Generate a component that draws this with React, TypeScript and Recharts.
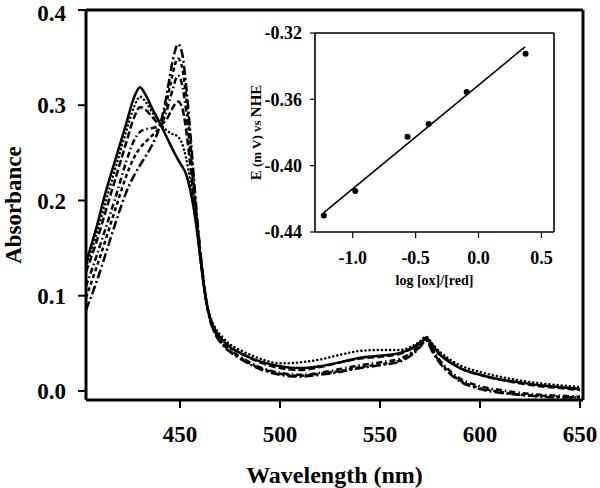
import React from 'react';
import {
  LineChart,
  Line,
  ComposedChart,
  Scatter,
  XAxis,
  YAxis,
  ReferenceLine,
} from 'recharts';

const FONT = '"Liberation Serif", "Times New Roman", serif';

// ─── Main spectra ─────────────────────────────────────────────────────────────

const WAVELENGTHS = [
  403, 408, 413, 418, 423, 427, 430, 433, 436, 440, 443, 446, 449, 451, 453, 455, 457, 459, 461,
  463, 465, 468, 471, 475, 480, 490, 500, 510, 520, 530, 540, 550, 560, 566, 570, 573, 576, 580,
  585, 590, 600, 610, 620, 630, 640, 650,
];

const SERIES_A = [
  0.135, 0.17, 0.21, 0.245, 0.28, 0.308, 0.319, 0.31, 0.297, 0.281, 0.268, 0.255, 0.243, 0.236,
  0.228, 0.212, 0.19, 0.16, 0.125, 0.095, 0.077, 0.062, 0.054, 0.046, 0.04, 0.031, 0.026, 0.024,
  0.026, 0.03, 0.035, 0.037, 0.04, 0.045, 0.05, 0.055, 0.048, 0.038, 0.03, 0.024, 0.017, 0.012,
  0.009, 0.006, 0.004, 0.002,
];
const SERIES_B = [
  0.13, 0.163, 0.2, 0.236, 0.272, 0.298, 0.309, 0.303, 0.293, 0.281, 0.274, 0.27, 0.267, 0.26,
  0.245, 0.222, 0.193, 0.16, 0.126, 0.097, 0.079, 0.065, 0.057, 0.049, 0.043, 0.034, 0.029, 0.03,
  0.033, 0.038, 0.042, 0.043, 0.043, 0.047, 0.052, 0.057, 0.05, 0.041, 0.033, 0.027, 0.02, 0.015,
  0.011, 0.008, 0.006, 0.004,
];
const SERIES_C = [
  0.125, 0.155, 0.19, 0.225, 0.26, 0.287, 0.298, 0.295, 0.288, 0.28, 0.284, 0.296, 0.304, 0.298,
  0.275, 0.24, 0.2, 0.162, 0.127, 0.096, 0.077, 0.062, 0.054, 0.046, 0.04, 0.03, 0.024, 0.022,
  0.025, 0.03, 0.034, 0.036, 0.039, 0.045, 0.051, 0.056, 0.049, 0.039, 0.031, 0.024, 0.017, 0.012,
  0.008, 0.005, 0.003, 0.001,
];
const SERIES_D = [
  0.11, 0.14, 0.172, 0.205, 0.24, 0.263, 0.272, 0.275, 0.276, 0.279, 0.292, 0.314, 0.331, 0.322,
  0.295, 0.255, 0.21, 0.166, 0.128, 0.096, 0.076, 0.06, 0.051, 0.043, 0.036, 0.025, 0.019, 0.017,
  0.019, 0.023, 0.027, 0.03, 0.034, 0.041, 0.049, 0.055, 0.045, 0.032, 0.021, 0.013, 0.005, 0.001,
  -0.002, -0.004, -0.005, -0.006,
];
const SERIES_E = [
  0.098, 0.128, 0.16, 0.193, 0.225, 0.245, 0.255, 0.262, 0.268, 0.279, 0.3, 0.33, 0.349, 0.34,
  0.31, 0.265, 0.215, 0.169, 0.129, 0.096, 0.075, 0.059, 0.05, 0.042, 0.035, 0.024, 0.018, 0.016,
  0.018, 0.021, 0.025, 0.028, 0.032, 0.039, 0.047, 0.054, 0.043, 0.03, 0.019, 0.011, 0.003, -0.001,
  -0.004, -0.005, -0.006, -0.007,
];
const SERIES_F = [
  0.085, 0.113, 0.145, 0.178, 0.208, 0.226, 0.237, 0.247, 0.258, 0.279, 0.307, 0.343, 0.364, 0.355,
  0.322, 0.275, 0.222, 0.172, 0.13, 0.097, 0.075, 0.058, 0.049, 0.041, 0.034, 0.023, 0.017, 0.015,
  0.017, 0.02, 0.024, 0.027, 0.031, 0.038, 0.046, 0.053, 0.042, 0.029, 0.018, 0.01, 0.002, -0.002,
  -0.004, -0.006, -0.007, -0.007,
];

const X_TICKS = [450, 500, 550, 600, 650];
const Y_TICKS = [0, 0.1, 0.2, 0.3, 0.4];

// line styles for the six spectra (solid, dotted, dashes, dash-dots)
const STYLES = [
  { key: 'a', dash: undefined, cap: 'butt' },
  { key: 'b', dash: '0.1 4', cap: 'round' },
  { key: 'c', dash: '7 3', cap: 'butt' },
  { key: 'd', dash: '6 3 1.5 3', cap: 'butt' },
  { key: 'e', dash: '4 3', cap: 'butt' },
  { key: 'f', dash: '9 3 2 3', cap: 'butt' },
];

const spectra = WAVELENGTHS.map((wl, i) => ({
  wl,
  a: SERIES_A[i],
  b: SERIES_B[i],
  c: SERIES_C[i],
  d: SERIES_D[i],
  e: SERIES_E[i],
  f: SERIES_F[i],
}));

// ─── Inset (Nernst plot) ──────────────────────────────────────────────────────

const LOG_RATIO = [-1.23, -0.98, -0.564, -0.396, -0.094, 0.374];
const POTENTIAL = [-0.43, -0.4153, -0.3825, -0.3749, -0.3556, -0.3325];
const FIT_X = [-1.23, 0.37];
const FIT_Y = [-0.4283, -0.3283];

const INSET_X_TICKS = [-1.0, -0.5, 0.0, 0.5];
const INSET_Y_TICKS = [-0.44, -0.4, -0.36, -0.32];

const points = LOG_RATIO.map((x, i) => ({ x, y: POTENTIAL[i] }));
const fitLine = FIT_X.map((x, i) => ({ x, y: FIT_Y[i] }));

// ─── Axis titles ──────────────────────────────────────────────────────────────

const BottomTitle = ({ viewBox, text, size, offset }: any) => (
  <text
    x={viewBox.x + viewBox.width / 2}
    y={viewBox.y + viewBox.height - offset}
    textAnchor="middle"
    fontFamily={FONT}
    fontWeight={700}
    fontSize={size}
    fill="#000"
  >
    {text}
  </text>
);

const SideTitle = ({ viewBox, children, baseX }: any) => {
  const cy = viewBox.y + viewBox.height / 2;
  return (
    <text
      x={baseX}
      y={cy}
      transform={`rotate(-90 ${baseX} ${cy})`}
      textAnchor="middle"
      fontFamily={FONT}
      fontWeight={700}
      fill="#000"
    >
      {children}
    </text>
  );
};

const Dot = ({ cx, cy }: any) => <circle cx={cx} cy={cy} r={3} fill="#000" />;

export default function App() {
  const tickStyle = { fill: '#000', fontSize: 23, fontWeight: 700, fontFamily: FONT };
  const insetTick = { fill: '#000', fontSize: 18, fontWeight: 700, fontFamily: FONT };

  return (
    <div style={{ position: 'absolute', left: 0, top: 0, width: 600, height: 488, background: '#fff' }}>
      <LineChart width={600} height={488} data={spectra} margin={{ top: 10, right: 17, bottom: 0, left: 0 }}>
        <XAxis
          dataKey="wl"
          type="number"
          domain={[403, 651.5]}
          ticks={X_TICKS}
          allowDataOverflow
          height={88}
          stroke="#000"
          axisLine={{ strokeWidth: 3 }}
          tickLine={{ strokeWidth: 2 }}
          tickSize={8}
          tickMargin={18}
          tick={tickStyle}
          label={<BottomTitle text="Wavelength (nm)" size={24} offset={9} />}
        />
        <YAxis
          type="number"
          domain={[-0.0095, 0.4]}
          ticks={Y_TICKS}
          allowDataOverflow
          width={86}
          stroke="#000"
          axisLine={{ strokeWidth: 3 }}
          tickLine={{ strokeWidth: 2 }}
          tickSize={8}
          tickMargin={12}
          tick={tickStyle}
          tickFormatter={(v: number) => v.toFixed(1)}
          label={
            <SideTitle baseX={21}>
              <tspan fontSize={23}>Absorbance</tspan>
            </SideTitle>
          }
        />
        <ReferenceLine y={0.4} stroke="#000" strokeWidth={3} ifOverflow="visible" />
        <ReferenceLine x={651.5} stroke="#000" strokeWidth={3} ifOverflow="visible" />
        {STYLES.map((s) => (
          <Line
            key={s.key}
            dataKey={s.key}
            type="monotone"
            stroke="#000"
            strokeWidth={2.5}
            strokeDasharray={s.dash}
            strokeLinecap={s.cap as any}
            dot={false}
            isAnimationActive={false}
          />
        ))}
      </LineChart>

      <div style={{ position: 'absolute', left: 220, top: 20 }}>
        <ComposedChart width={350} height={270} margin={{ top: 13, right: 16, bottom: 0, left: 0 }}>
          <XAxis
            dataKey="x"
            type="number"
            domain={[-1.3, 0.6]}
            ticks={INSET_X_TICKS}
            allowDataOverflow
            height={58}
            stroke="#000"
            axisLine={{ strokeWidth: 1.6 }}
            tickLine={{ strokeWidth: 1.2 }}
            tickSize={6}
            tickMargin={13}
            tick={insetTick}
            tickFormatter={(v: number) => v.toFixed(1)}
            label={<BottomTitle text="log [ox]/[red]" size={14} offset={10} />}
          />
          <YAxis
            dataKey="y"
            type="number"
            domain={[-0.44, -0.32]}
            ticks={INSET_Y_TICKS}
            allowDataOverflow
            width={95}
            stroke="#000"
            axisLine={{ strokeWidth: 1.6 }}
            tickLine={{ strokeWidth: 1.2 }}
            tickSize={5}
            tickMargin={8}
            tick={insetTick}
            tickFormatter={(v: number) => v.toFixed(2)}
            label={
              <SideTitle baseX={41}>
                <tspan fontSize={15}>E</tspan>
                <tspan fontSize={13}> (m V) vs </tspan>
                <tspan fontSize={15}>NHE</tspan>
              </SideTitle>
            }
          />
          <ReferenceLine y={-0.32} stroke="#000" strokeWidth={1.6} ifOverflow="visible" />
          <ReferenceLine x={0.6} stroke="#000" strokeWidth={1.6} ifOverflow="visible" />
          <Line
            data={fitLine}
            dataKey="y"
            type="linear"
            stroke="#000"
            strokeWidth={1.6}
            dot={false}
            isAnimationActive={false}
          />
          <Scatter data={points} dataKey="y" fill="#000" shape={<Dot />} isAnimationActive={false} />
        </ComposedChart>
      </div>
    </div>
  );
}
